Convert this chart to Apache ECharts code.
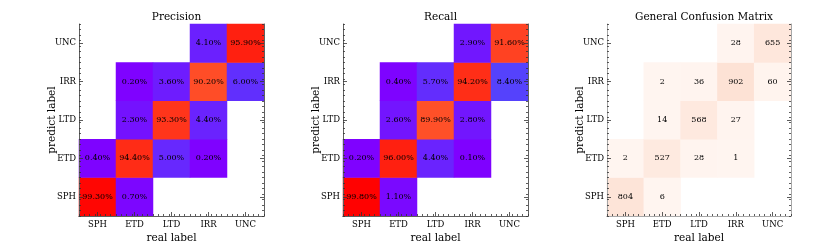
<!DOCTYPE html>
<html>
<head>
<meta charset="utf-8">
<script src="https://cdn.jsdelivr.net/npm/echarts@6/dist/echarts.min.js"></script>
<style>html,body{margin:0;padding:0;background:#fff}#c{width:830px;height:249px}</style>
</head>
<body>
<div id="c"></div>
<script>
// ---- data ----
const labels = ['SPH', 'ETD', 'LTD', 'IRR', 'UNC'];      // x: real label, y: predict label (bottom -> top)
const titles = ['Precision', 'Recall', 'General Confusion Matrix'];
// rows = predict label (SPH, ETD, LTD, IRR, UNC), columns = real label; 0 = empty cell
const precisionRows = [
  [99.30, 0.70, 0, 0, 0],
  [0.40, 94.40, 5.00, 0.20, 0],
  [0, 2.30, 93.30, 4.40, 0],
  [0, 0.20, 3.60, 90.20, 6.00],
  [0, 0, 0, 4.10, 95.90]
];
const recallRows = [
  [99.80, 1.10, 0, 0, 0],
  [0.20, 96.00, 4.40, 0.10, 0],
  [0, 2.60, 89.90, 2.80, 0],
  [0, 0.40, 5.70, 94.20, 8.40],
  [0, 0, 0, 2.90, 91.60]
];
const countRows = [
  [804, 6, 0, 0, 0],
  [2, 527, 28, 1, 0],
  [0, 14, 568, 27, 0],
  [0, 2, 36, 902, 60],
  [0, 0, 0, 28, 655]
];

// ---- styling ----
const FONT = 'DejaVu Serif';
const grids = [
  {left: 79, top: 24, width: 185, height: 199},
  {left: 343, top: 24, width: 185, height: 199},
  {left: 607, top: 24, width: 184, height: 199}
];
const frameColors = ['#606060', '#606060', '#a8a8a8'];
const rainbow = ['#8000ff', '#4d4ffc', '#1a96f3', '#1acee3', '#4df3ce', '#80ffb4',
                 '#b3f396', '#e6ce74', '#ff964f', '#ff4f28', '#ff0000'];

function toCells(rows) {
  const out = [];
  rows.forEach((row, y) => row.forEach((v, x) => { if (v > 0) out.push([x, y, v]); }));
  return out;
}

const xAxis = [], yAxis = [], series = [], visualMap = [], title = [];
const matrices = [precisionRows, recallRows, countRows];

grids.forEach((g, p) => {
  const fc = frameColors[p];
  const tickStyle = {color: '#333', width: 0.8};
  const xi = xAxis.length, yi = yAxis.length;
  // bottom category axis
  xAxis.push({
    type: 'category', gridIndex: p, position: 'bottom', data: labels, z: 5,
    axisLine: {show: true, lineStyle: {color: fc, width: 1}},
    axisTick: {show: true, inside: true, alignWithLabel: true, length: 4, lineStyle: tickStyle},
    axisLabel: {fontFamily: FONT, fontSize: 8.5, color: '#000', margin: 4},
    splitLine: {show: false},
    name: 'real label', nameLocation: 'middle', nameGap: 17, nameMoveOverlap: false,
    nameTextStyle: {fontFamily: FONT, fontSize: 10.5, color: '#000'}
  });
  // top frame line
  xAxis.push({
    type: 'category', gridIndex: p, position: 'top', data: labels, z: 5,
    axisLine: {show: true, lineStyle: {color: fc, width: 1}},
    axisTick: {show: false}, axisLabel: {show: false}, splitLine: {show: false}
  });
  // bottom minor ticks
  xAxis.push({
    type: 'value', gridIndex: p, position: 'bottom', min: 0, max: 35, interval: 1, z: 5,
    axisLine: {show: false},
    axisTick: {show: true, inside: true, length: 2, lineStyle: tickStyle},
    axisLabel: {show: false}, splitLine: {show: false}
  });
  // left category axis
  yAxis.push({
    type: 'category', gridIndex: p, position: 'left', data: labels, z: 5,
    axisLine: {show: true, lineStyle: {color: fc, width: 1}},
    axisTick: {show: true, inside: true, alignWithLabel: true, length: 4, lineStyle: tickStyle},
    axisLabel: {fontFamily: FONT, fontSize: 8.5, color: '#000', margin: 3},
    splitLine: {show: false},
    name: 'predict label', nameLocation: 'middle', nameGap: 21, nameRotate: 90, nameMoveOverlap: false,
    nameTextStyle: {fontFamily: FONT, fontSize: 10.5, color: '#000'}
  });
  // right frame + major ticks
  yAxis.push({
    type: 'category', gridIndex: p, position: 'right', data: labels, z: 5,
    axisLine: {show: true, lineStyle: {color: fc, width: 1}},
    axisTick: {show: true, inside: true, alignWithLabel: true, length: 4, lineStyle: tickStyle},
    axisLabel: {show: false}, splitLine: {show: false}
  });
  // left & right minor ticks
  ['left', 'right'].forEach(pos => yAxis.push({
    type: 'value', gridIndex: p, position: pos, min: 0, max: 35, interval: 1, z: 5,
    axisLine: {show: false},
    axisTick: {show: true, inside: true, length: 2, lineStyle: tickStyle},
    axisLabel: {show: false}, splitLine: {show: false}
  }));

  const isPct = p < 2;
  series.push({
    type: 'heatmap', xAxisIndex: xi, yAxisIndex: yi, data: toCells(matrices[p]),
    label: {
      show: true, fontFamily: FONT, fontSize: 8, color: '#000',
      formatter: prm => isPct ? prm.value[2].toFixed(2) + '%' : String(prm.value[2])
    },
    emphasis: {disabled: true}
  });
  visualMap.push(isPct
    ? {show: false, seriesIndex: p, min: 0, max: 100, dimension: 2, inRange: {color: rainbow}}
    : {show: false, seriesIndex: p, min: 0, max: 902, dimension: 2, inRange: {color: ['#fff5f0', '#fde2d5']}});
  title.push({
    text: titles[p], left: g.left + g.width / 2, top: 7, textAlign: 'center',
    textStyle: {fontFamily: FONT, fontSize: 10.5, fontWeight: 'normal', color: '#000'}
  });
});

const chart = echarts.init(document.getElementById('c'), null, {renderer: 'canvas'});
chart.setOption({
  animation: false,
  backgroundColor: '#fff',
  title, grid: grids, xAxis, yAxis, series, visualMap
});
</script>
</body>
</html>
